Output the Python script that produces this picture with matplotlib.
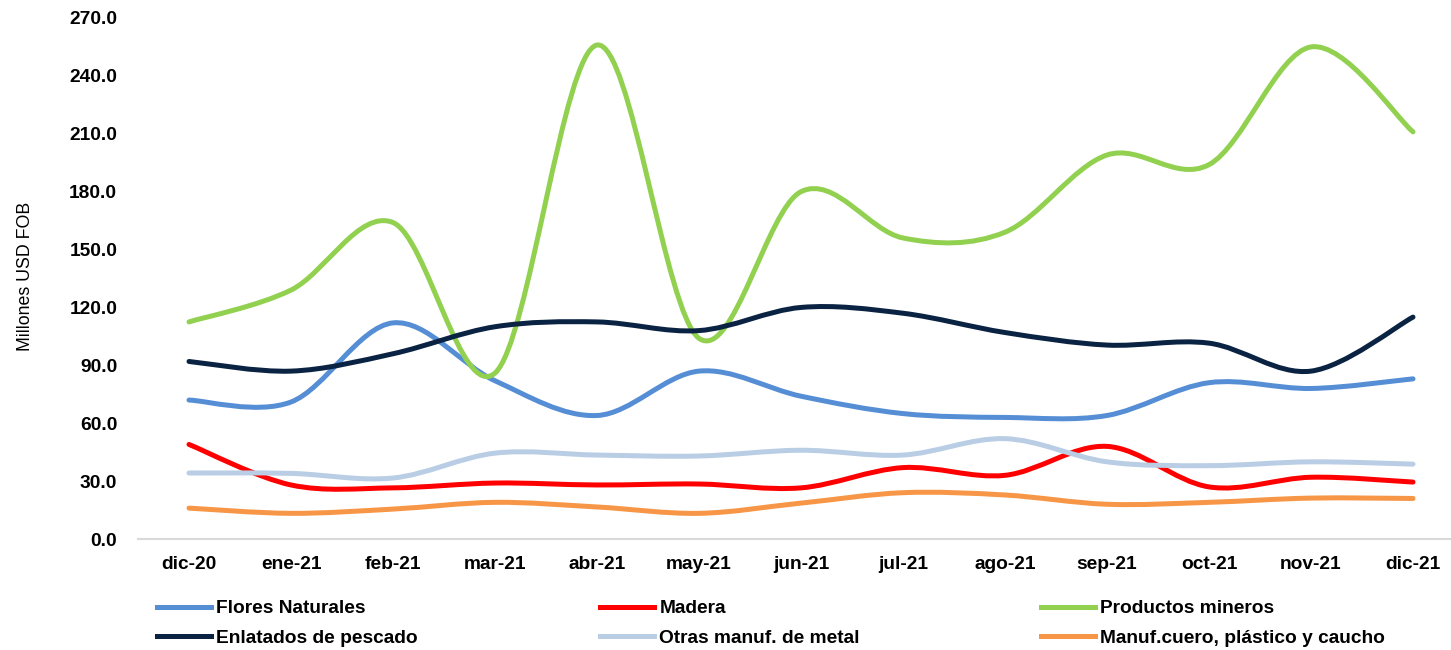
import matplotlib
matplotlib.use("Agg")

import numpy as np
import matplotlib.pyplot as plt
from matplotlib.path import Path
from matplotlib.patches import PathPatch
from matplotlib.lines import Line2D

plt.rcParams["font.family"] = ["Liberation Sans", "DejaVu Sans"]

# ── Data (millones USD FOB) ──────────────────────────────────────────────────
months = ["dic-20", "ene-21", "feb-21", "mar-21", "abr-21", "may-21", "jun-21",
          "jul-21", "ago-21", "sep-21", "oct-21", "nov-21", "dic-21"]

flores    = [72.0, 71.0, 112.0, 82.0, 64.0, 87.0, 74.0, 65.0, 63.0, 64.0, 81.0, 78.0, 83.0]
madera    = [49.0, 28.0, 26.5, 29.0, 28.0, 28.5, 26.5, 37.0, 33.0, 48.0, 27.0, 32.0, 29.5]
mineros   = [112.5, 129.0, 164.0, 86.0, 256.0, 104.0, 180.0, 156.0, 159.0, 199.0, 194.0, 255.0, 211.0]
enlatados = [92.0, 87.0, 96.0, 110.0, 112.5, 108.0, 120.0, 117.0, 107.0, 100.5, 101.5, 87.0, 115.0]
metal     = [34.2, 34.0, 31.6, 44.5, 43.5, 43.0, 46.0, 43.5, 52.0, 40.0, 38.0, 40.0, 38.8]
cuero     = [16.0, 13.3, 15.5, 19.0, 16.6, 13.3, 18.6, 24.0, 22.8, 18.0, 19.0, 21.2, 21.0]

series = [
    ("Flores Naturales", flores, "#558ED5"),
    ("Madera", madera, "#FF0000"),
    ("Productos mineros", mineros, "#92D050"),
    ("Enlatados de pescado", enlatados, "#0B2343"),
    ("Otras manuf. de metal", metal, "#B9CDE5"),
    ("Manuf.cuero, plástico y caucho", cuero, "#F79646"),
]


def smooth_path(xs, ys):
    """Excel-like smoothed line: cubic Bezier segments through the points."""
    p = np.column_stack([xs, ys]).astype(float)
    ext = np.vstack([p[0], p, p[-1]])
    verts = [tuple(p[0])]
    codes = [Path.MOVETO]
    for i in range(len(p) - 1):
        p0, p1, p2, p3 = ext[i], ext[i + 1], ext[i + 2], ext[i + 3]
        c1 = p1 + (p2 - p0) / 6.0
        c2 = p2 - (p3 - p1) / 6.0
        verts += [tuple(c1), tuple(c2), tuple(p2)]
        codes += [Path.CURVE4] * 3
    return Path(verts, codes)


# ── Figure ───────────────────────────────────────────────────────────────────
W, H = 1451, 650
fig = plt.figure(figsize=(W / 100, H / 100), dpi=100)
left, right, bottom, top = 138, 1464, 539, 18
ax = fig.add_axes([left / W, (H - bottom) / H, (right - left) / W, (bottom - top) / H])

x = np.arange(len(months))
handles = []
for name, vals, color in series:
    patch = PathPatch(smooth_path(x, vals), facecolor="none", edgecolor=color,
                      linewidth=3.6, capstyle="round", joinstyle="round")
    ax.add_patch(patch)
    handles.append(Line2D([], [], color=color, linewidth=3.6, label=name))

ax.set_xlim(-0.5, len(months) - 0.5)
ax.set_ylim(0, 270)
ax.set_yticks(np.arange(0, 271, 30))
ax.set_yticklabels([f"{v:.1f}" for v in np.arange(0, 271, 30)],
                   fontsize=13.8, fontweight="bold")
ax.set_xticks(x)
ax.set_xticklabels(months, fontsize=13.8, fontweight="bold")
ax.tick_params(axis="y", length=0, pad=15)
ax.tick_params(axis="x", length=0, pad=12)

for s in ["top", "right", "left"]:
    ax.spines[s].set_visible(False)
ax.spines["bottom"].set_color("#D9D9D9")
ax.spines["bottom"].set_linewidth(1.5)

fig.text(25 / W, 1 - 276 / H, "Millones USD FOB", rotation=90, fontsize=12.8,
         ha="center", va="center")

# Legend: three columns, two rows
col_x = [157, 600, 1041]
cols = [[handles[0], handles[3]], [handles[1], handles[4]], [handles[2], handles[5]]]
for cx, hs in zip(col_x, cols):
    fig.legend(handles=hs, loc="upper left", bbox_to_anchor=(cx / W, 1 - 600 / H),
               frameon=False, borderpad=0, borderaxespad=0,
               handlelength=2.8, handletextpad=0.3, labelspacing=0.62,
               prop={"size": 13.8, "weight": "bold"})

fig.savefig("out.png", dpi=100)
